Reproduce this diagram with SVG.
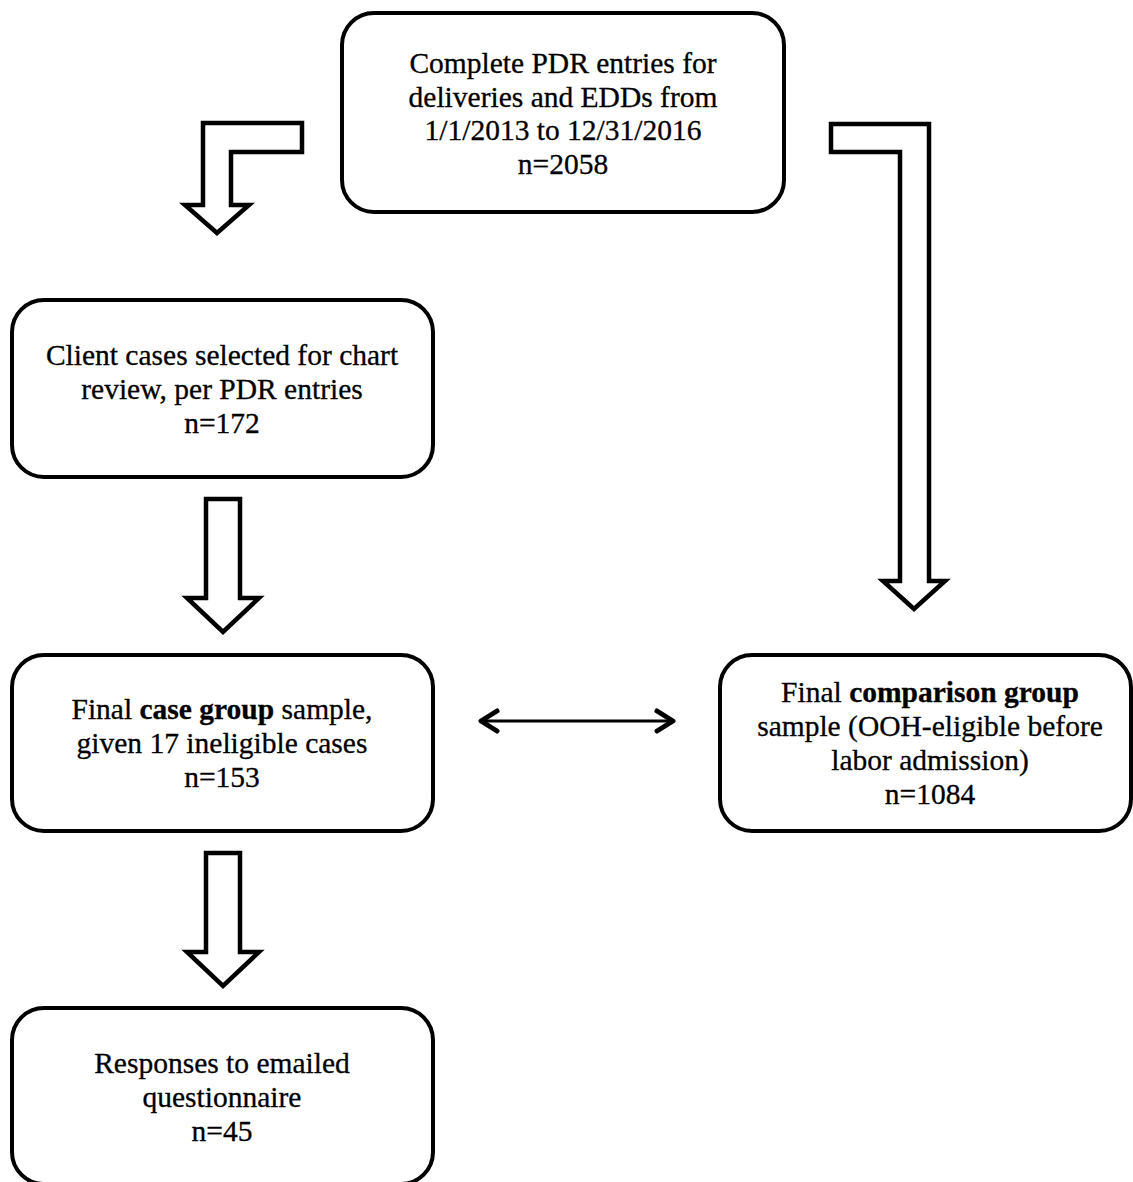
<svg xmlns="http://www.w3.org/2000/svg" width="1133" height="1182" viewBox="0 0 1133 1182">
<style>
.box{fill:#fff;stroke:#000;stroke-width:4}
.arr{fill:#fff;stroke:#000;stroke-width:4.5;stroke-linejoin:miter}
.t{font-family:"Liberation Serif","Times New Roman",serif;font-size:29.5px;fill:#000;text-anchor:middle;stroke:#000;stroke-width:0.3}
.b{font-weight:bold}
.line{stroke:#000;stroke-width:3;fill:none}
.chev{stroke:#000;stroke-width:5;fill:none;stroke-linecap:round;stroke-linejoin:round}
</style>
<rect width="1133" height="1182" fill="#fff"/>
<g id="connectors">
<polygon class="arr" points="302,123 302,152 231,152 231,205 249,205 217,233 185,205 203,205 203,123"/>
<polygon class="arr" points="831,124 929,124 929,581 945,581 914,609 883,581 900,581 900,152 831,152"/>
<polygon class="arr" points="206,499 240,499 240,598 259,598 223,632 187,598 206,598"/>
<polygon class="arr" points="206,853 240,853 240,952 259,952 223,986 187,952 206,952"/>
<line class="line" x1="482" y1="721" x2="672" y2="721"/>
<polyline class="chev" points="497,711 481,721 497,731"/>
<polyline class="chev" points="657,711 673,721 657,731"/>
</g>
<g id="node-top">
<rect class="box" x="342" y="13" width="442" height="199" rx="32"/>
<text class="t" x="563" y="73">Complete PDR entries for</text>
<text class="t" x="563" y="107">deliveries and EDDs from</text>
<text class="t" x="563" y="140">1/1/2013 to 12/31/2016</text>
<text class="t" x="563" y="174">n=2058</text>
</g>
<g id="node-client">
<rect class="box" x="12" y="300" width="421" height="177" rx="32"/>
<text class="t" x="222" y="365">Client cases selected for chart</text>
<text class="t" x="222" y="399">review, per PDR entries</text>
<text class="t" x="222" y="433">n=172</text>
</g>
<g id="node-case">
<rect class="box" x="12" y="655" width="421" height="176" rx="32"/>
<text class="t" x="222" y="719">Final <tspan class="b">case group</tspan> sample,</text>
<text class="t" x="222" y="753">given 17 ineligible cases</text>
<text class="t" x="222" y="787">n=153</text>
</g>
<g id="node-responses">
<rect class="box" x="12" y="1008" width="421" height="176" rx="32"/>
<text class="t" x="222" y="1073">Responses to emailed</text>
<text class="t" x="222" y="1107">questionnaire</text>
<text class="t" x="222" y="1141">n=45</text>
</g>
<g id="node-comparison">
<rect class="box" x="720" y="655" width="411" height="176" rx="32"/>
<text class="t" x="930" y="702">Final <tspan class="b">comparison group</tspan></text>
<text class="t" x="930" y="736">sample (OOH-eligible before</text>
<text class="t" x="930" y="770">labor admission)</text>
<text class="t" x="930" y="804">n=1084</text>
</g>
</svg>
